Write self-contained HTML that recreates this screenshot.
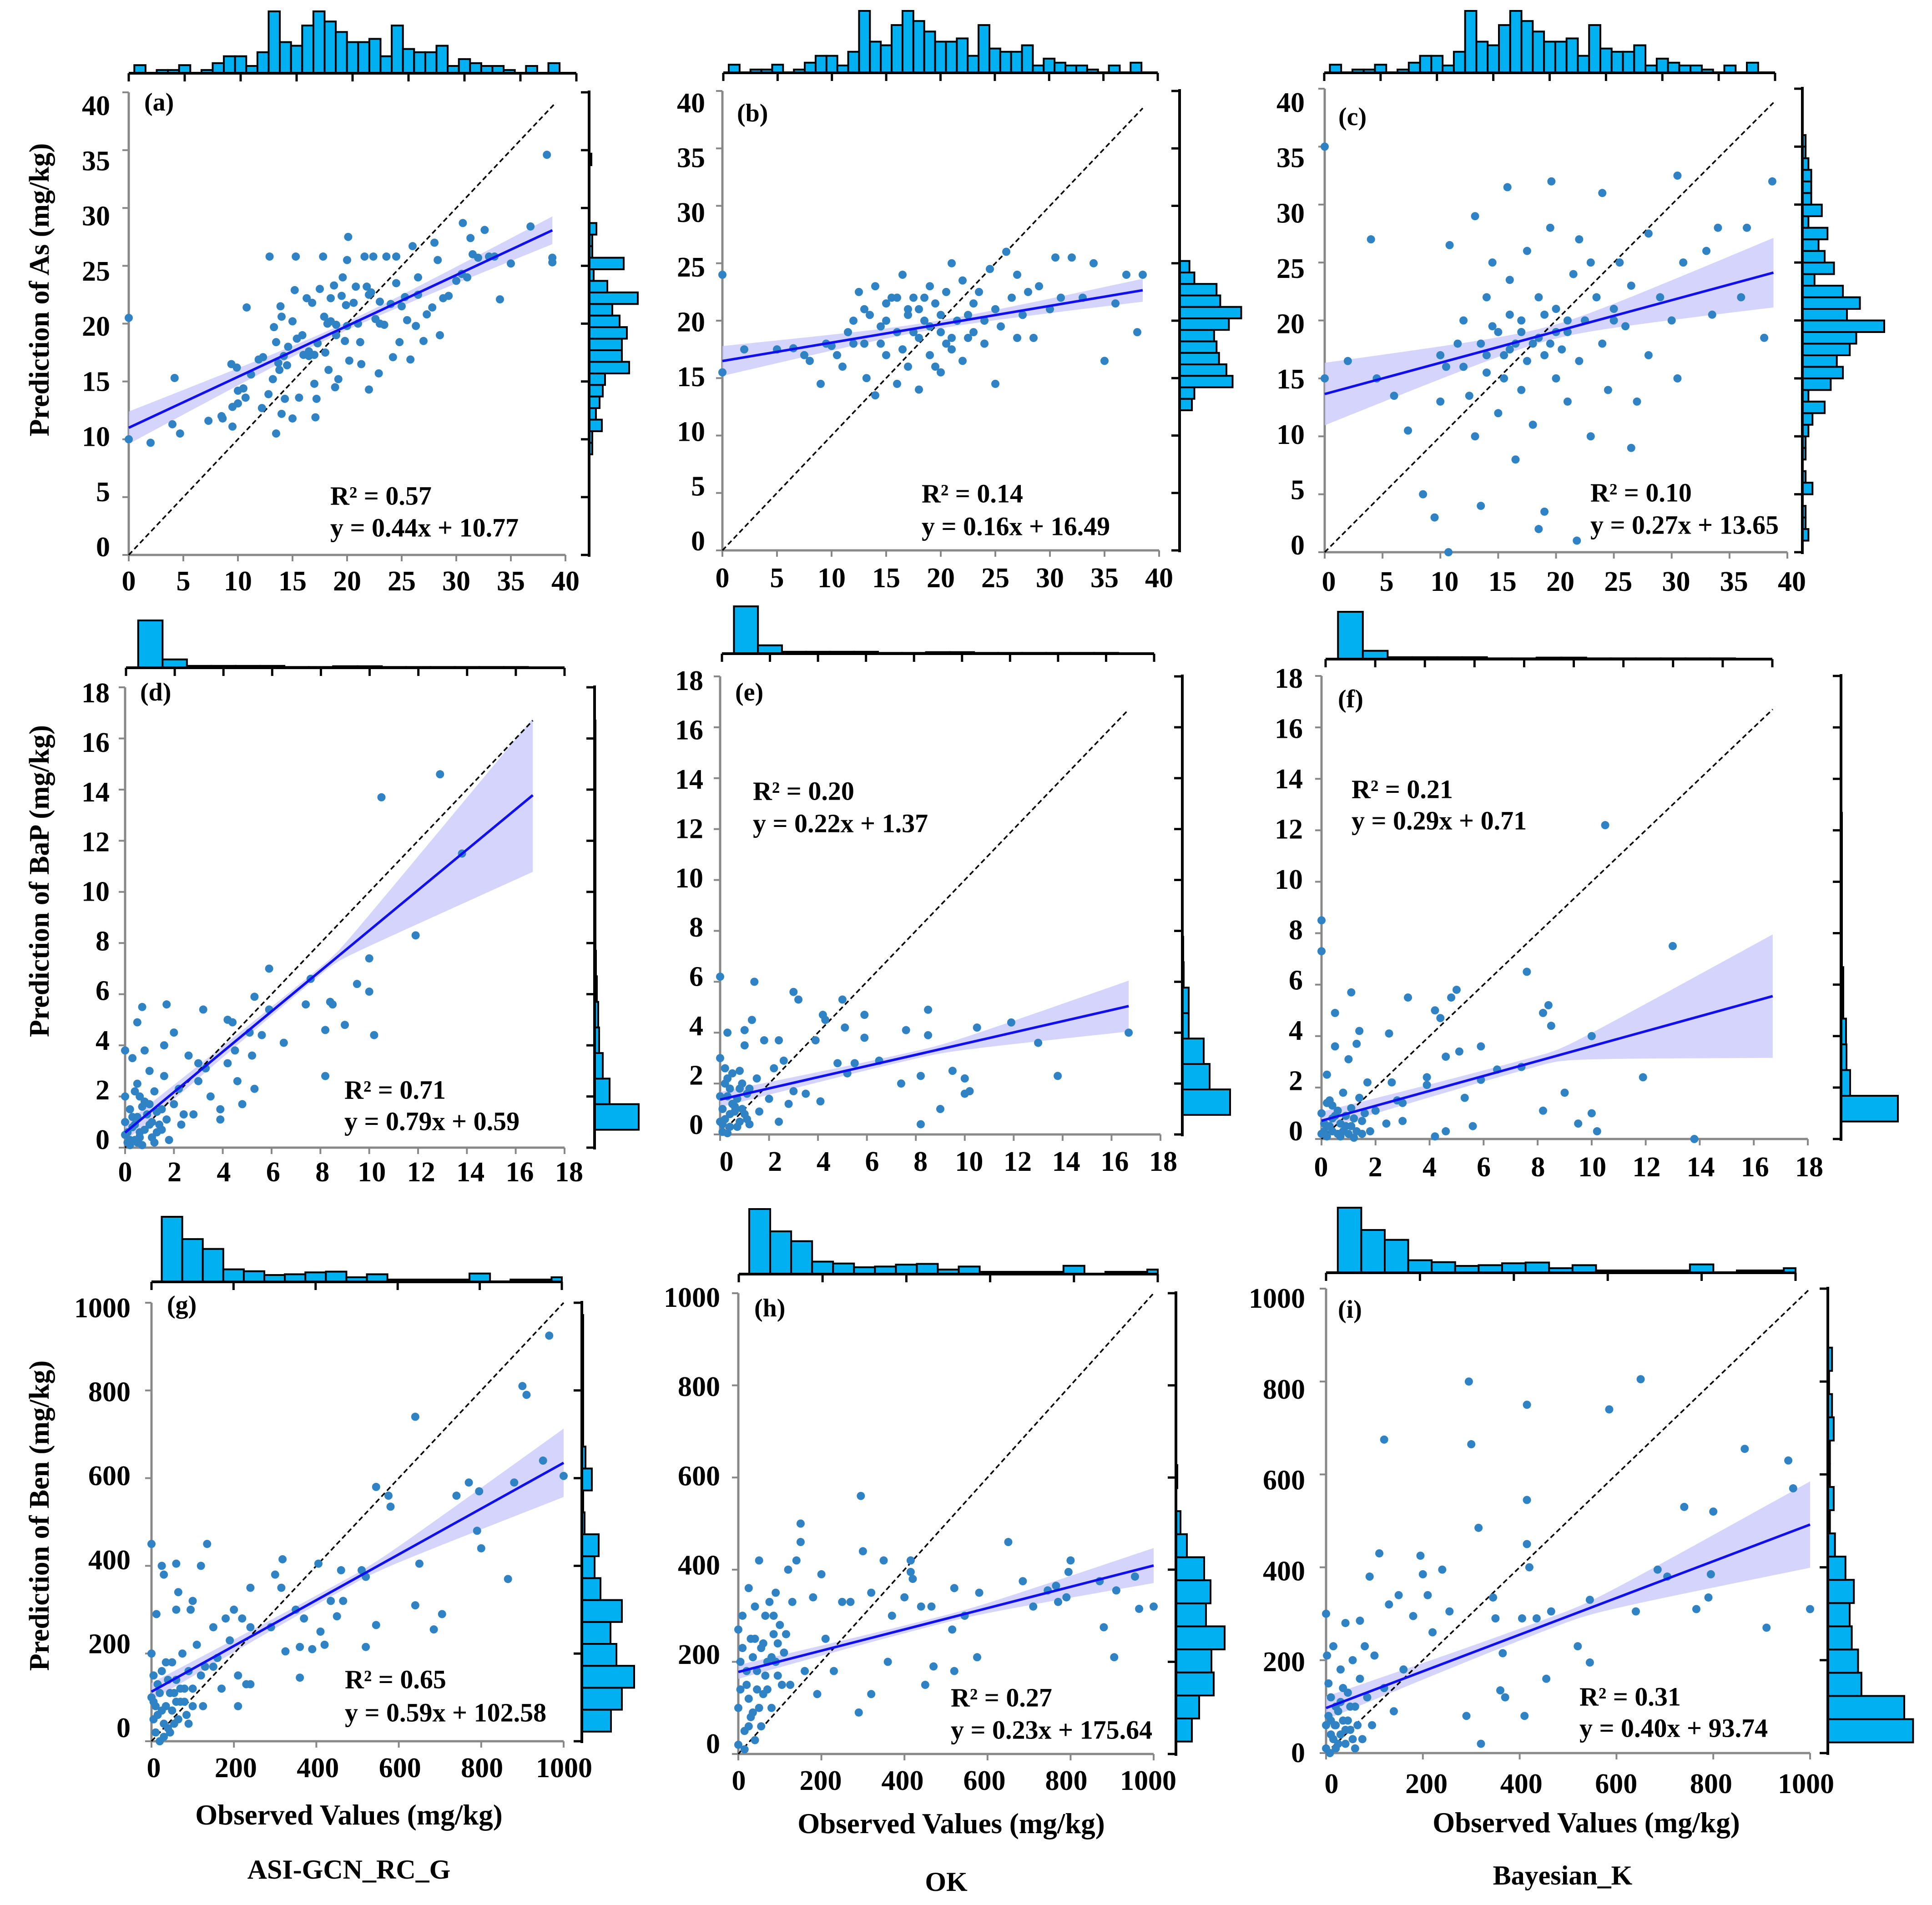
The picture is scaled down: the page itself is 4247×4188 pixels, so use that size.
<!DOCTYPE html>
<html><head><meta charset="utf-8"><title>Observed vs predicted</title>
<style>
html,body{margin:0;padding:0;background:#fff}
svg{display:block}
text{font-family:"Liberation Serif","Times New Roman",serif;font-weight:bold;fill:#000}
</style></head>
<body>
<svg id="fig" xmlns="http://www.w3.org/2000/svg" width="4247" height="4188" viewBox="0 0 4247 4188"></svg>
<script>
// ---------- DATA ----------
const aPoints=[[0,20.5],[0,10],[2,9.7],[4,11.3],[4.2,15.3],[4.7,10.5],[7.3,11.6],[8.5,12],[8.6,11.8],[9.4,16.5],[9.5,11.1],[9.5,12.8],[9.9,16.2],[10,14.2],[10,13.1],[10.5,14.4],[10.7,13.6],[10.8,21.4],[11.2,15.6],[11.9,16.9],[12.2,12.7],[12.8,13.9],[12.9,25.8],[13.2,15.2],[13.3,19.7],[13.5,18.4],[13.5,10.5],[13.7,16.6],[13.9,21.5],[14,12.2],[14,20.6],[14.2,17.2],[14.3,13.5],[14.6,18],[15,20.2],[15,11.8],[15.3,25.8],[15.2,22.9],[15.4,18.7],[15.6,13.6],[15.9,19],[16.3,22.2],[16.5,17.2],[16.8,21.8],[17,14.8],[17.1,11.9],[17.2,13.5],[17.3,18.3],[17.5,23],[17.8,25.8],[17.9,20.6],[18,17.5],[18.3,16],[18.5,22.2],[18.8,23.3],[18.9,14.5],[19,19.9],[19.2,15.2],[19.5,22.4],[19.6,24],[19.8,18.5],[20,25.5],[20.1,27.5],[20.2,16.8],[20.6,21.8],[20.8,23.2],[21.2,18.4],[21.3,16.5],[21.6,25.8],[21.8,23.2],[22,14.3],[22.2,22.7],[22.4,25.8],[22.6,20.4],[22.9,15.7],[23,21.9],[23.4,19.9],[23.6,25.8],[24,21.7],[24.2,17.1],[24.5,25.8],[24.8,18.4],[25,21.5],[25.3,22.3],[25.8,16.9],[26,26.7],[26.5,22.5],[27,18.5],[27.3,20.8],[27.8,21.4],[28,27],[28.3,25.5],[28.5,19],[28.8,22.2],[29.3,22.4],[30,23.7],[30.5,24.3],[30.6,28.7],[31,24],[31.3,27.4],[31.5,26],[32,25.7],[32.6,28.1],[33,25.8],[33.5,25.8],[34,22.1],[35,25.2],[36.8,28.4],[38.3,34.6],[38.8,25.7],[38.8,25.3],[26.5,24],[24.5,23.5],[21,20],[20,19.8],[19,19],[18.5,20.2],[17,17.3],[16.5,17.6],[19.9,21.6],[22,22.5],[23,20],[25.5,20.3],[26.3,19.8],[14.5,16.4],[13.8,16],[18.2,20],[12.3,17.1],[16,17.3]];
const bPoints=[[0,24],[0,15.5],[2,17.5],[5,17.5],[6.5,17.6],[7.5,17],[8,16.5],[9,14.5],[9.5,18],[10,17.8],[10.5,17],[11,16],[11.5,19],[12,18],[12.5,22.5],[13,21],[13.2,15],[13.5,20.5],[14,13.5],[14,23],[14.5,19.5],[15,17],[15,21.5],[15.5,22],[16,14.5],[16,19],[16.5,24],[17,21],[17,16],[17.5,22],[18,18.5],[18,14],[18.5,20],[19,23],[19,17],[19.5,21.5],[20,19],[20,15.5],[20.5,22.5],[21,25],[21,17.5],[21.5,20],[22,23.5],[22,16.5],[22.5,20.5],[23,19],[23.5,22.5],[24,18],[24.5,24.5],[25,21],[25,14.5],[25.5,19.5],[26,26],[26.5,22],[27,18.5],[27,24],[27.5,20.5],[28,22.5],[28.5,18.5],[29,23],[30,21],[30.5,25.5],[31,22],[32,25.5],[33,22],[34,25],[35,16.5],[36,21.5],[37,24],[38,19],[38.5,24],[15,20],[17,20.5],[18,21],[19,19.5],[20,20.5],[21,18.5],[16,22],[23,21.5],[12,20],[14.5,18],[16.5,17.5],[18.5,22],[20.5,18],[22.5,18.5],[17.5,19],[19.5,16],[13,18],[24,20]];
const cPoints=[[0,35],[0,15],[2,16.5],[4.5,15],[4,27],[6,13.5],[7.2,10.5],[8.5,5],[9.5,3],[10,13],[10,17],[10.5,16],[10.8,26.5],[11.5,18],[12,20],[12.5,13.5],[13,29],[13,10],[13.5,4],[14,22],[14,17],[14.5,25],[15,19],[15,12],[15.5,15],[15.8,31.5],[16,23.5],[16.5,18],[16.5,8],[17,20],[17,14],[17.5,26],[18,18],[18,11],[18.5,22],[19,17],[19,3.5],[19.5,28],[20,21],[20,15],[19.6,32],[21,19],[21,13],[21.5,24],[22,16.5],[21.8,1],[22.5,20],[22,27],[23,10],[23.5,22],[24,18],[24,31],[24.5,14],[25,21],[25.5,25],[26,19.5],[26.5,23],[27,13],[26.5,9],[28,17],[28,27.5],[29,22],[30,20],[30.5,15],[31,25],[30.5,32.5],[33,26],[33.5,20.5],[34,28],[36,22],[36.5,28],[38,18.5],[38.7,32],[10.7,0],[18.5,2],[20,19],[17,19],[16,17.5],[14.5,19.5],[19,20.5],[12,16],[21,20],[23,25],[25,20],[13.5,18],[15.5,17],[17.5,16.5],[18.5,18.5],[16,20.5],[14,15.5],[19.5,18],[20.5,17.5]];
const dPoints=[[0,3.8],[0,2],[0,1],[0,0.5],[0.1,0.2],[0.2,1.5],[0.3,0.8],[0.3,3.5],[0.4,0.3],[0.5,1.2],[0.5,2.5],[0.6,0.6],[0.7,0.1],[0.8,1.8],[0.5,4.9],[1,0.9],[1,3],[1.1,0.4],[1.2,2.2],[1.3,1.4],[1.7,5.6],[1.5,0.7],[1.6,2.8],[1.7,1.1],[1.8,0.3],[2,4.5],[2,1.7],[2.2,2.3],[2.3,0.9],[0.7,5.5],[2.6,3.6],[2.8,1.3],[3,2.6],[3,3.3],[3.2,5.4],[3.3,3.1],[3.5,2],[3.9,1.1],[4.2,3.3],[4.2,5],[4.4,4.9],[4.5,3.8],[4.8,1.7],[5.1,4.5],[5.2,3.6],[5.3,5.9],[5.6,4.4],[5.9,7],[5.9,5.4],[6.5,4.1],[7.6,6.6],[7.4,5.6],[8.4,5.7],[8.2,4.6],[8.5,5.6],[9.5,6.4],[10,7.4],[10.2,4.4],[10.5,13.7],[11.9,8.3],[12.9,14.6],[13.8,11.5],[9,4.8],[8.2,2.8],[10,6.1],[0.6,2],[1.2,0.2],[0.8,3.8],[1.6,4],[2.4,1.3],[4.6,2.6],[5.3,2.3],[3.9,1.5],[0.1,0.6],[0.2,0.3],[0.3,1.2],[0.4,0.9],[0.6,0.4],[0.8,0.7],[0.9,1.3],[1.1,1],[1.3,0.6],[1.4,0.9],[0.2,0.1],[0.5,0.2],[0.7,1.6],[1,1.7],[1.5,1.5],[0.4,2.2]];
const ePoints=[[0,6.2],[0,3],[0,1.5],[0,0.5],[0.1,0.1],[0.2,2],[0.3,4],[0.4,0.8],[0.5,1.2],[1.4,6],[0.7,0.3],[0.8,2.5],[0.9,1],[1,3.5],[1.1,0.6],[1.2,1.8],[1.3,4.5],[1.5,2.2],[1.6,0.9],[1.8,3.7],[2,1.4],[2.4,3.7],[2.2,2.6],[2.4,0.5],[2.6,2.9],[2.8,1.2],[3,5.6],[3,1.7],[3.2,5.3],[3.5,1.6],[4.2,4.7],[3.9,3.7],[4.1,1.3],[4.3,4.5],[5,5.3],[4.8,2.8],[5.1,4.2],[5.2,2.4],[5.5,2.8],[5.9,3.8],[6.5,2.9],[7.4,2],[7.6,4.1],[8.2,0.4],[8.2,2.3],[8.5,3.9],[9,1],[8.5,4.9],[10,2.2],[10,1.6],[10.5,4.2],[11.9,4.4],[9.5,2.5],[13,3.6],[13.8,2.3],[16.7,4],[10.2,1.7],[5.9,4.7],[1,4.1],[0.3,0.05],[0.1,1],[0.2,0.6],[0.3,1.5],[0.4,0.3],[0.5,2.4],[0.6,0.9],[0.7,1.4],[0.8,0.5],[0.9,2],[1,0.8],[1.1,1.6],[0.2,2.6],[0.4,1.8],[0.6,1.1],[0.1,0.4],[1.2,0.4],[0.8,1.8],[0.3,2.2]];
const fPoints=[[0,8.5],[0,7.3],[0,1],[0,0.2],[0.1,0.6],[0.2,2.5],[0.3,1.5],[0.4,0.3],[0.5,0.9],[0.5,3.6],[0.7,0.1],[0.8,1.8],[0.9,0.5],[1,3.1],[1.1,1.2],[1.2,0.05],[1.3,3.7],[1.4,1.6],[1.5,0.7],[1.4,4.2],[1.7,2.2],[1.8,0.3],[1.1,5.7],[2,1.1],[2.5,4.1],[2.4,0.6],[2.6,2.2],[2.8,1.5],[3,0.7],[3,1.4],[3.2,5.5],[3.9,2.4],[3.9,2.1],[4.2,5],[4.4,4.7],[4.6,3.2],[4.8,5.5],[5.1,3.4],[5,5.8],[5.3,1.6],[5.9,3.6],[5.9,2.3],[6.5,2.7],[5.6,0.5],[7.4,2.8],[7.6,6.5],[8.2,4.9],[8.4,5.2],[8.5,4.4],[9,1.8],[9.5,0.6],[10,1],[10.5,12.2],[10,4],[10.2,0.3],[13,7.5],[13.8,0],[11.9,2.4],[8.2,1.1],[0.5,4.9],[4.2,0.1],[4.6,0.3],[0.1,0.3],[0.2,0.1],[0.3,0.5],[0.4,0.8],[0.6,0.2],[0.7,0.6],[0.8,0.3],[0.9,0.9],[1,0.2],[1.1,0.5],[1.2,0.8],[1.3,0.3],[0.2,1.4],[0.6,1.1],[1.5,0.2],[1.6,1],[0.4,1.3]];
const gPoints=[[0,450],[0,200],[0,100],[5,50],[10,20],[15,130],[12,290],[25,70],[30,10],[35,180],[30,380],[45,110],[60,300],[55,40],[60,140],[65,340],[70,90],[75,200],[100,320],[85,60],[90,160],[95,300],[100,120],[110,220],[120,400],[125,80],[130,170],[135,450],[150,260],[160,190],[170,120],[180,280],[190,230],[200,300],[210,150],[220,280],[230,130],[240,260],[240,350],[290,260],[300,380],[315,350],[318,415],[325,205],[350,300],[370,280],[360,215],[390,210],[405,405],[410,250],[420,220],[435,320],[465,320],[450,285],[460,390],[510,390],[520,375],[545,580],[575,560],[580,535],[520,215],[545,265],[640,740],[640,310],[650,405],[685,255],[705,290],[740,560],[770,590],[790,480],[795,570],[800,440],[865,370],[880,590],[900,810],[910,790],[950,640],[965,925],[1000,605],[10,80],[20,0],[40,30],[60,90],[80,120],[100,80],[120,150],[150,170],[5,150],[210,80],[240,130],[360,145],[25,400],[60,405],[5,90],[15,60],[20,110],[30,40],[35,80],[40,140],[50,70],[55,110],[65,50],[70,120],[80,90],[90,40],[45,20],[25,160],[50,180]];
const hPoints=[[0,270],[0,100],[0,20],[5,200],[10,300],[15,50],[20,150],[25,360],[30,250],[35,90],[40,320],[45,180],[50,420],[55,230],[60,130],[65,300],[70,200],[75,330],[80,100],[85,260],[90,350],[95,170],[100,280],[110,220],[120,400],[125,150],[130,330],[150,500],[150,460],[160,180],[140,420],[180,340],[190,130],[200,390],[210,250],[230,180],[250,330],[270,330],[290,90],[295,560],[300,440],[320,350],[320,130],[350,420],[370,300],[360,200],[400,340],[415,420],[415,395],[420,380],[440,320],[465,320],[470,190],[450,150],[515,270],[520,360],[520,180],[545,300],[575,210],[580,350],[650,460],[685,375],[710,320],[745,355],[765,365],[770,330],[790,340],[795,395],[800,420],[870,375],[880,275],[905,210],[910,355],[955,385],[965,315],[1000,320],[15,10],[30,80],[55,60],[90,200],[5,140],[10,230],[20,180],[25,120],[35,210],[40,250],[45,140],[50,100],[60,240],[65,170],[70,140],[80,210],[85,300],[95,240],[105,150],[115,260],[25,60],[40,30]];
const iPoints=[[0,300],[0,60],[0,10],[5,150],[10,40],[15,230],[20,100],[25,20],[30,180],[35,70],[40,280],[45,130],[50,50],[55,200],[60,100],[70,285],[70,160],[75,30],[80,230],[85,120],[90,380],[95,60],[100,210],[110,430],[120,675],[120,140],[130,320],[140,90],[150,340],[160,180],[180,295],[195,425],[200,385],[210,340],[220,260],[240,395],[255,305],[290,80],[295,800],[300,665],[315,485],[320,20],[345,335],[350,290],[360,135],[365,215],[370,120],[405,290],[410,80],[415,750],[415,545],[415,450],[420,400],[435,290],[455,160],[465,305],[520,230],[545,195],[545,330],[585,740],[640,305],[650,805],[685,395],[705,380],[740,530],[765,310],[790,335],[795,385],[800,520],[865,655],[910,270],[955,630],[965,570],[1000,310],[2,210],[8,0],[18,60],[35,140],[5,80],[10,120],[15,30],[20,60],[25,90],[30,40],[40,20],[45,70],[50,100],[55,30],[60,10],[65,60],[20,10],[30,110],[10,70],[40,50]];

// fit [slope, intercept, xEnd]; band half-widths [at 0, middle, at xEnd]
const aFit=[0.44,11.0,38.8], aBand=[1.4,0.35,1.2];
const bFit=[0.16,16.49,38.5], bBand=[1.3,0.35,1.0];
const cFit=[0.27,13.65,38.8], cBand=[2.7,0.6,3.0];
const dFit=[0.79,0.59,16.7], dBand=[0.35,0.15,3.0];
const eFit=[0.22,1.37,16.7], eBand=[0.3,0.15,1.0];
const fFit=[0.29,0.71,16.7], fBand=[0.35,0.2,2.4];
const gFit=[0.522,113,1000], gBand=[20,10,78];
const hFit=[0.231,178,1000], hBand=[15,8,38];
const iFit=[0.395,97,1000], iBand=[25,12,93];
const diagEnds=[39,38.5,38.8,16.7,16.7,16.7,1000,1000,1000];

// top (observed) histograms: [firstBinStart, binWidth], counts
const row1TopBins=[0.5,1], row1TopCounts=[20,0,8,8,20,0,8,25,42,42,18,52,153,77,68,118,153,128,102,77,77,85,42,118,60,52,52,68,18,35,25,18,18,8,0,18,0,25];
const row2TopBins=[0.5,1], row2TopCounts=[125,22,5,5,5,5,2,2,4,4,2,2,2,2,2,2];
const row3TopBins=[25,50], row3TopCounts=[172,113,87,33,28,18,20,25,27,12,20,6,6,6,6,22,0,6,6,12];

// right (predicted) histograms: [firstBinStart, binWidth], counts
const aRightBins=[8.7,1], aRightCounts=[7,7,28,15,23,30,35,88,72,72,83,67,51,107,40,10,76,7,7,16,0,0,0,0,0,5];
const bRightBins=[12.2,1], bRightCounts=[10,12,43,38,32,30,28,40,50,33,30,12,8];
const cRightBins=[1,1], cRightCounts=[15,8,8,0,25,8,0,8,8,15,25,55,15,70,100,85,117,133,202,110,142,100,30,78,55,40,62,15,48,22,22,22,15,8,8];
const dRightBins=[0.7,1], dRightCounts=[97,33,18,10,8,5,3,2,2,2,2,2,2,2,2,2];
const eRightBins=[0.77,1], eRightCounts=[105,60,47,14,14,3,2];
const fRightBins=[0.68,1], fRightCounts=[125,20,12,11,5,5,2,2,2,2,2,2];
const gRightBins=[22,50], gRightCounts=[64,88,115,76,63,88,41,28,37,6,3,22,8,3,3,3,3,3,3];
const hRightBins=[27,50], hRightCounts=[35,51,83,78,107,66,76,62,24,10,0,3];
const iRightBins=[23,50], iRightCounts=[203,182,80,72,57,52,62,42,17,5,14,5,5,14,10,3,10];

const r2Labels=["R² = 0.57","R² = 0.14","R² = 0.10","R² = 0.71","R² = 0.20","R² = 0.21","R² = 0.65","R² = 0.27","R² = 0.31"];
const eqLabels=["y = 0.44x + 10.77","y = 0.16x + 16.49","y = 0.27x + 13.65","y = 0.79x + 0.59","y = 0.22x + 1.37","y = 0.29x + 0.71","y = 0.59x + 102.58","y = 0.23x + 175.64","y = 0.40x + 93.74"];
const panelLetters=["(a)","(b)","(c)","(d)","(e)","(f)","(g)","(h)","(i)"];
const row1Ticks=[0,5,10,15,20,25,30,35,40];
const row2Ticks=[0,2,4,6,8,10,12,14,16,18];
const row3Ticks=[0,200,400,600,800,1000];

// ---------- GEOMETRY (pixel layout) ----------
const G=[
 {x0:283,x1:1243,y0:1220,y1:203,tb:161,tx0:283,tx1:1267,rb:1295,rs:1,ly0:1203,ly1:233,lr:242,lx0:283,lx1:1243,lxy:1278,let:[317,225],st:[726,1090,1160]},
 {x0:1588,x1:2548,y0:1210,y1:200,tb:160,tx0:1590,tx1:2545,rb:2593,rs:2.709,ly0:1190,ly1:227,lr:1550,lx0:1588,lx1:2548,lxy:1271,let:[1620,249],st:[2026,1085,1157]},
 {x0:2912,x1:3929,y0:1214,y1:195,tb:160,tx0:2911,tx1:3902,rb:3962,rs:0.891,ly0:1199,ly1:226,lr:2868,lx0:2921,lx1:3939,lxy:1279,let:[2942,257],st:[3496,1083,1154]},
 {x0:275,x1:1241,y0:2523,y1:1511,tb:1468,tx0:277,tx1:1241,rb:1307,rs:1,ly0:2506,ly1:1524,lr:241,lx0:275,lx1:1251,lxy:2577,let:[308,1522],st:[757,2396,2465]},
 {x0:1583,x1:2551,y0:2494,y1:1487,tb:1437,tx0:1587,tx1:2537,rb:2599,rs:1,ly0:2473,ly1:1497,lr:1546,lx0:1597,lx1:2557,lxy:2554,let:[1616,1522],st:[1655,1739,1810]},
 {x0:2905,x1:3974,y0:2504,y1:1486,tb:1449,tx0:2914,tx1:3896,rb:4047,rs:1,ly0:2487,ly1:1492,lr:2864,lx0:2904,lx1:3977,lxy:2566,let:[2941,1537],st:[2971,1735,1804]},
 {x0:333,x1:1239,y0:3828,y1:2864,tb:2818,tx0:333,tx1:1235,rb:1279,rs:1,ly0:3799,ly1:2876,lr:287,lx0:338,lx1:1240,lxy:3887,let:[367,2869],st:[758,3692,3765]},
 {x0:1623,x1:2536,y0:3856,y1:2843,tb:2801,tx0:1624,tx1:2545,rb:2585,rs:1,ly0:3834,ly1:2853,lr:1583,lx0:1624,lx1:2524,lxy:3915,let:[1658,2876],st:[2090,3732,3803]},
 {x0:2915,x1:3979,y0:3854,y1:2833,tb:2798,tx0:2915,tx1:3947,rb:4018,rs:0.923,ly0:3854,ly1:2855,lr:2869,lx0:2927,lx1:3970,lxy:3922,let:[2941,2879],st:[3472,3730,3799]}
];
const topScale=[136/153,104/125,143/172];

const svg=document.getElementById('fig');
const NS='http://www.w3.org/2000/svg';
function mk(tag,parent){const e=document.createElementNS(NS,tag);parent.appendChild(e);return e;}
function sa(e,o){for(const k in o)e.setAttribute(k,o[k]);return e;}

const pointsList=[aPoints,bPoints,cPoints,dPoints,ePoints,fPoints,gPoints,hPoints,iPoints];
const fits=[aFit,bFit,cFit,dFit,eFit,fFit,gFit,hFit,iFit];
const bands=[aBand,bBand,cBand,dBand,eBand,fBand,gBand,hBand,iBand];
const rightBins=[aRightBins,bRightBins,cRightBins,dRightBins,eRightBins,fRightBins,gRightBins,hRightBins,iRightBins];
const rightCounts=[aRightCounts,bRightCounts,cRightCounts,dRightCounts,eRightCounts,fRightCounts,gRightCounts,hRightCounts,iRightCounts];
const topBins=[row1TopBins,row2TopBins,row3TopBins];
const topCounts=[row1TopCounts,row2TopCounts,row3TopCounts];
const ticksRow=[row1Ticks,row2Ticks,row3Ticks];

for(let p=0;p<9;p++){
  const g=G[p], row=Math.floor(p/3), ticks=ticksRow[row], vmax=ticks[ticks.length-1];
  const X=v=>g.x0+(g.x1-g.x0)*v/vmax;
  const Y=v=>g.y0-(g.y0-g.y1)*v/vmax;
  const TX=v=>g.tx0+(g.tx1-g.tx0)*v/vmax;
  const grp=mk('g',svg);
  
  

  // top histogram
  const th=mk('g',grp);
  
  
  const tb=topBins[row], tc=topCounts[row];
  tc.forEach((c,k)=>{
    if(c<=0)return;
    const a=tb[0]+k*tb[1], b=Math.min(a+tb[1],vmax);
    const h=c*topScale[row];
    const r=mk('rect',th);
    sa(r,{x:TX(a),y:g.tb-h,width:TX(b)-TX(a),height:h,fill:'#00b0f0',stroke:'#000','stroke-width':4});
    
    
  });
  const tax=mk('line',th);
  sa(tax,{x1:g.tx0,y1:g.tb,x2:g.tx1,y2:g.tb,stroke:'#000','stroke-width':6});
  
  
  ticks.forEach(t=>{
    const l=mk('line',th);
    sa(l,{x1:TX(t),y1:g.tb,x2:TX(t),y2:g.tb+18,stroke:'#000','stroke-width':5});
    
    
  });

  // right histogram
  const rh=mk('g',grp);
  
  
  const rb=rightBins[p];
  rightCounts[p].forEach((c,k)=>{
    if(c<=0)return;
    const a=rb[0]+k*rb[1], b=a+rb[1];
    const r=mk('rect',rh);
    sa(r,{x:g.rb,y:Y(b),width:c*g.rs,height:Y(a)-Y(b),fill:'#00b0f0',stroke:'#000','stroke-width':4});
    
    
  });
  const rax=mk('line',rh);
  sa(rax,{x1:g.rb,y1:g.y0+4,x2:g.rb,y2:g.y1-4,stroke:'#000','stroke-width':6});
  
  
  ticks.forEach(t=>{
    const l=mk('line',rh);
    sa(l,{x1:g.rb-18,y1:Y(t),x2:g.rb,y2:Y(t),stroke:'#000','stroke-width':5});
    
    
  });

  // main spines
  const sp=mk('path',grp);
  sa(sp,{d:`M${g.x0},${g.y1} L${g.x0},${g.y0} L${g.x1},${g.y0}`,fill:'none',stroke:'#888','stroke-width':5});
  
  
  ticks.forEach((t,k)=>{
    const ly=mk('line',grp);
    sa(ly,{x1:g.x0-14,y1:Y(t),x2:g.x0,y2:Y(t),stroke:'#888','stroke-width':4});
    
    
    const lx=mk('line',grp);
    sa(lx,{x1:X(t),y1:g.y0,x2:X(t),y2:g.y0+14,stroke:'#888','stroke-width':4});
    
    
    const n=ticks.length-1;
    const ty=mk('text',grp);
    sa(ty,{x:g.lr,y:g.ly0+(g.ly1-g.ly0)*k/n,'text-anchor':'end','dominant-baseline':'central','font-size':62});
    ty.textContent=String(t);
    
    
    const tx=mk('text',grp);
    sa(tx,{x:g.lx0+(g.lx1-g.lx0)*k/n,y:g.lxy,'text-anchor':'middle','dominant-baseline':'central','font-size':62});
    tx.textContent=String(t);
    
    
  });

  // confidence band (hyperbolic widening)
  const f=fits[p], bd=bands[p], xe=f[2], xm=xe/2;
  const half=x=>{const u=(x-xm)/xm;const e=u<0?bd[0]:bd[2];return Math.sqrt(bd[1]*bd[1]+(e*e-bd[1]*bd[1])*u*u);};
  let up=[],dn=[];
  for(let s=0;s<=40;s++){const x=xe*s/40, yv=f[0]*x+f[1];up.push(X(x)+','+Y(yv+half(x)));dn.unshift(X(x)+','+Y(yv-half(x)));}
  const band=mk('polygon',grp);
  sa(band,{points:up.concat(dn).join(' '),fill:'#c9c9fb','fill-opacity':0.8});
  
  

  // 1:1 line
  const dg=mk('line',grp);
  sa(dg,{x1:X(0),y1:Y(0),x2:X(diagEnds[p]),y2:Y(diagEnds[p]),stroke:'#000','stroke-width':3.5,'stroke-dasharray':'11 7'});
  
  

  // points
  const pg=mk('g',grp);
  
  
  pointsList[p].forEach(pt=>{
    const c=mk('circle',pg);
    sa(c,{cx:X(pt[0]),cy:Y(pt[1]),r:9,fill:'#2f82c4'});
    
    
  });

  // fit line
  const fl=mk('line',grp);
  sa(fl,{x1:X(0),y1:Y(f[1]),x2:X(xe),y2:Y(f[0]*xe+f[1]),stroke:'#1010ee','stroke-width':5.5});
  
  

  // labels
  const lt=mk('text',grp);
  sa(lt,{x:g.let[0],y:g.let[1],'dominant-baseline':'central','font-size':56});
  lt.textContent=panelLetters[p];
  
  
  const r2=mk('text',grp);
  sa(r2,{x:g.st[0],y:g.st[1],'dominant-baseline':'central','font-size':58});
  r2.textContent=r2Labels[p];
  
  
  const eq=mk('text',grp);
  sa(eq,{x:g.st[0],y:g.st[2],'dominant-baseline':'central','font-size':58});
  eq.textContent=eqLabels[p];
  
  
}

// axis titles
const yTitles=[["Prediction of As (mg/kg)",637],["Prediction of BaP (mg/kg)",1937],["Prediction of Ben (mg/kg)",3332]];
yTitles.forEach(t=>{
  const e=mk('text',svg);
  sa(e,{x:0,y:0,transform:`translate(87,${t[1]}) rotate(-90)`,'text-anchor':'middle','dominant-baseline':'central','font-size':62});
  e.textContent=t[0];
  
  
});
const xTitles=[[767,3990],[2091,4009],[3487,4007]];
xTitles.forEach(t=>{
  const e=mk('text',svg);
  sa(e,{x:t[0],y:t[1],'text-anchor':'middle','dominant-baseline':'central','font-size':63});
  e.textContent="Observed Values (mg/kg)";
  
  
});
const methods=[["ASI-GCN_RC_G",767,4110],["OK",2080,4137],["Bayesian_K",3435,4123]];
methods.forEach(t=>{
  const e=mk('text',svg);
  sa(e,{x:t[1],y:t[2],'text-anchor':'middle','dominant-baseline':'central','font-size':60});
  e.textContent=t[0];
  
  
});
</script>
</body></html>
